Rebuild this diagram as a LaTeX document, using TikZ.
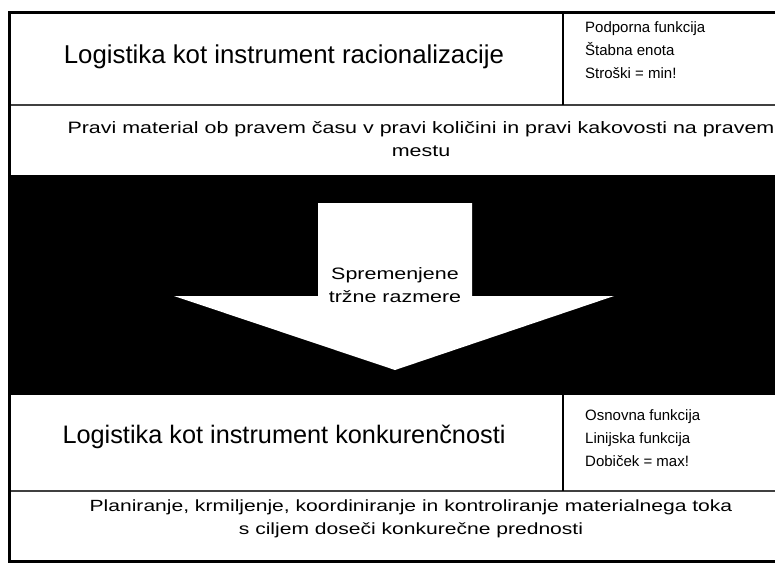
\documentclass[tikz,border=0pt]{standalone}
\usepackage{fontspec}
\setmainfont{Liberation Sans}
\newfontfamily\widefont[FakeStretch=1.3]{Liberation Sans}
\begin{document}
\begin{tikzpicture}[x=1pt,y=-1pt,
  frame/.style={line width=3pt,draw=black},
  sep/.style={line width=2pt,draw=black!75},
  divider/.style={line width=1.5pt,draw=black},
  title/.style={font=\fontsize{25.8}{30}\selectfont,inner sep=0pt},
  side/.style={font=\fontsize{15}{23}\selectfont,align=left,inner sep=0pt,anchor=west},
  body/.style={font=\widefont\fontsize{16.5}{23}\selectfont,align=center,inner sep=0pt},
  arrowtext/.style={font=\widefont\fontsize{16.5}{23}\selectfont,align=center,inner sep=0pt}]
\useasboundingbox (0,0) rectangle (775,563);
\begin{scope}
\clip (0,0) rectangle (775,563);
% black band
\fill[black] (9.5,175) rectangle (812,395);
% arrow
\fill[white] (318,203) -- (472,203) -- (472,296) -- (614,296) -- (395,370)
  -- (174,296) -- (318,296) -- cycle;
% separators
\draw[sep] (9.5,105) -- (812,105);
\draw[sep] (9.5,491) -- (812,491);
\draw[divider] (563,12) -- (563,105);
\draw[divider] (563,395) -- (563,491);
% frame
\draw[frame] (9.5,12) rectangle (812,561);
% wide body line (clipped at right edge like the reference)
\node[body] (b1) at (421,139) {Pravi material ob pravem času v pravi količini in pravi kakovosti na pravem\\mestu};
\end{scope}
% texts
\node[title] (t1) at (284,57) {Logistika kot instrument racionalizacije};
\node[side] (s1) at (585,50) {Podporna funkcija\\Štabna enota\\Stroški = min!};
\node[arrowtext] (a1) at (395,285) {Spremenjene\\tržne razmere};
\node[title,font=\fontsize{25.3}{30}\selectfont] (t2) at (284,437) {Logistika kot instrument konkurenčnosti};
\node[side] (s2) at (585,438) {Osnovna funkcija\\Linijska funkcija\\Dobiček = max!};
\node[body,font=\widefont\fontsize{16.2}{23}\selectfont] (b2) at (411,519) {Planiranje, krmiljenje, koordiniranje in kontroliranje materialnega toka\\s ciljem doseči konkurečne prednosti};
\end{tikzpicture}
\end{document}
